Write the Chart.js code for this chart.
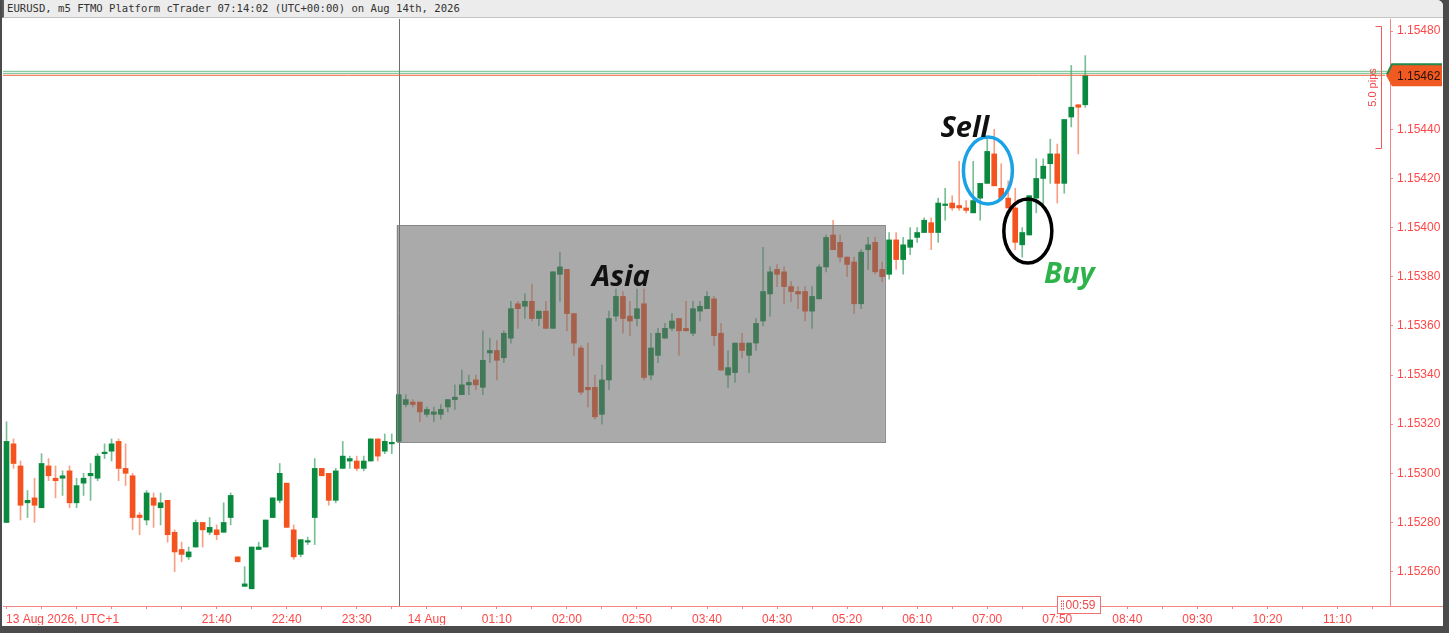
<!DOCTYPE html>
<html>
<head>
<meta charset="utf-8">
<script src="https://cdn.jsdelivr.net/npm/chart.js@4.4.0/dist/chart.umd.min.js"></script>
<style>
  html, body { margin: 0; padding: 0; width: 1449px; height: 633px; overflow: hidden; background: #4b4b4b; }
  #frame { position: absolute; left: 2px; top: 0; width: 1441px; height: 626px; background: #fff; border-top-right-radius: 6px; overflow: hidden; }
  #title { position: absolute; left: 0; top: 0; width: 1441px; height: 18px; box-sizing: border-box; background: #ececec; border-bottom: 1px solid #c4c4c4; border-left: 2px solid #5a5a5a; padding-left: 3px; font: 10.6px "DejaVu Sans Mono", monospace; line-height: 17px; color: #333; white-space: nowrap; }
  #wrap { position: absolute; left: 1px; top: 19px; width: 1440px; height: 606px; }
</style>
</head>
<body>
<div id="frame">
  <div id="title">EURUSD, m5 FTMO Platform cTrader 07:14:02 (UTC+00:00) on Aug 14th, 2026</div>
  <div id="wrap"><canvas id="chart" width="1440" height="606"></canvas></div>
</div>
<script>
// m5 candles, 13 Aug 19:10 -> 14 Aug 08:10 (UTC+1)
const open = [
  1.15280, 1.15312, 1.15303, 1.15288, 1.15290, 1.15286, 1.15303, 1.15298, 1.15298, 1.15301,
  1.15288, 1.15296, 1.15299, 1.15298, 1.15308, 1.15309, 1.15313, 1.15302, 1.15299, 1.15283,
  1.15281, 1.15290, 1.15286, 1.15289, 1.15276, 1.15269, 1.15266, 1.15270, 1.15280, 1.15276,
  1.15277, 1.15276, 1.15282, 1.15266, 1.15254, 1.15253, 1.15269, 1.15270, 1.15282, 1.15289,
  1.15296, 1.15277, 1.15267, 1.15272, 1.15282, 1.15302, 1.15300, 1.15289, 1.15302, 1.15305,
  1.15305, 1.15302, 1.15305, 1.15314, 1.15309, 1.15312, 1.15313, 1.15328, 1.15329, 1.15329,
  1.15324, 1.15324, 1.15324, 1.15327, 1.15330, 1.15332, 1.15336, 1.15338, 1.15335, 1.15349,
  1.15350, 1.15347, 1.15355, 1.15369, 1.15368, 1.15370, 1.15363, 1.15366, 1.15359, 1.15381,
  1.15383, 1.15365, 1.15351, 1.15335, 1.15335, 1.15324, 1.15338, 1.15364, 1.15372, 1.15364,
  1.15363, 1.15369, 1.15340, 1.15348, 1.15355, 1.15359, 1.15363, 1.15359, 1.15357, 1.15366,
  1.15367, 1.15371, 1.15357, 1.15340, 1.15341, 1.15353, 1.15348, 1.15353, 1.15362, 1.15373,
  1.15383, 1.15382, 1.15376, 1.15374, 1.15374, 1.15366, 1.15371, 1.15384, 1.15397, 1.15394,
  1.15388, 1.15386, 1.15369, 1.15391, 1.15394, 1.15383, 1.15381, 1.15395, 1.15387, 1.15392,
  1.15396, 1.15398, 1.15402, 1.15398, 1.15409, 1.15410, 1.15409, 1.15408, 1.15406, 1.15412,
  1.15418, 1.15430, 1.15416, 1.15412, 1.15408, 1.15393, 1.15397, 1.15412, 1.15420, 1.15426,
  1.15430, 1.15418, 1.15445, 1.15450, 1.15450
];
const high = [
  1.15321, 1.15314, 1.15305, 1.15293, 1.15298, 1.15308, 1.15306, 1.15303, 1.15301, 1.15303,
  1.15298, 1.15300, 1.15304, 1.15308, 1.15312, 1.15314, 1.15314, 1.15312, 1.15300, 1.15284,
  1.15293, 1.15292, 1.15292, 1.15289, 1.15277, 1.15272, 1.15270, 1.15281, 1.15280, 1.15282,
  1.15279, 1.15288, 1.15292, 1.15266, 1.15262, 1.15270, 1.15272, 1.15281, 1.15290, 1.15304,
  1.15296, 1.15279, 1.15273, 1.15274, 1.15306, 1.15302, 1.15300, 1.15302, 1.15313, 1.15307,
  1.15307, 1.15307, 1.15314, 1.15314, 1.15316, 1.15316, 1.15332, 1.15332, 1.15330, 1.15329,
  1.15327, 1.15327, 1.15328, 1.15330, 1.15336, 1.15342, 1.15340, 1.15340, 1.15358, 1.15355,
  1.15354, 1.15358, 1.15370, 1.15370, 1.15373, 1.15377, 1.15366, 1.15370, 1.15382, 1.15390,
  1.15383, 1.15365, 1.15352, 1.15353, 1.15340, 1.15344, 1.15366, 1.15375, 1.15374, 1.15370,
  1.15375, 1.15375, 1.15357, 1.15359, 1.15361, 1.15365, 1.15363, 1.15370, 1.15370, 1.15370,
  1.15374, 1.15372, 1.15361, 1.15350, 1.15353, 1.15357, 1.15353, 1.15363, 1.15392, 1.15384,
  1.15385, 1.15384, 1.15378, 1.15376, 1.15376, 1.15376, 1.15385, 1.15397, 1.15403, 1.15397,
  1.15388, 1.15388, 1.15391, 1.15396, 1.15396, 1.15386, 1.15398, 1.15398, 1.15396, 1.15400,
  1.15400, 1.15404, 1.15404, 1.15412, 1.15416, 1.15413, 1.15427, 1.15411, 1.15427, 1.15418,
  1.15436, 1.15440, 1.15426, 1.15419, 1.15416, 1.15400, 1.15413, 1.15428, 1.15428, 1.15436,
  1.15434, 1.15444, 1.15466, 1.15450, 1.15470
];
const low = [
  1.15280, 1.15302, 1.15281, 1.15282, 1.15280, 1.15286, 1.15297, 1.15290, 1.15291, 1.15286,
  1.15286, 1.15291, 1.15289, 1.15297, 1.15306, 1.15305, 1.15297, 1.15295, 1.15277, 1.15275,
  1.15279, 1.15278, 1.15279, 1.15272, 1.15260, 1.15264, 1.15265, 1.15270, 1.15270, 1.15275,
  1.15273, 1.15276, 1.15279, 1.15264, 1.15254, 1.15253, 1.15269, 1.15270, 1.15282, 1.15288,
  1.15278, 1.15265, 1.15266, 1.15271, 1.15271, 1.15299, 1.15287, 1.15288, 1.15302, 1.15302,
  1.15301, 1.15301, 1.15305, 1.15305, 1.15308, 1.15308, 1.15313, 1.15327, 1.15327, 1.15321,
  1.15323, 1.15321, 1.15322, 1.15325, 1.15326, 1.15332, 1.15332, 1.15334, 1.15332, 1.15345,
  1.15338, 1.15345, 1.15353, 1.15359, 1.15363, 1.15362, 1.15360, 1.15359, 1.15359, 1.15370,
  1.15358, 1.15348, 1.15332, 1.15327, 1.15322, 1.15320, 1.15334, 1.15362, 1.15357, 1.15356,
  1.15360, 1.15338, 1.15338, 1.15345, 1.15355, 1.15358, 1.15348, 1.15358, 1.15356, 1.15362,
  1.15367, 1.15352, 1.15342, 1.15335, 1.15337, 1.15347, 1.15341, 1.15350, 1.15360, 1.15364,
  1.15376, 1.15369, 1.15370, 1.15367, 1.15362, 1.15359, 1.15371, 1.15382, 1.15391, 1.15386,
  1.15380, 1.15365, 1.15367, 1.15383, 1.15381, 1.15378, 1.15379, 1.15383, 1.15381, 1.15389,
  1.15394, 1.15398, 1.15391, 1.15394, 1.15403, 1.15407, 1.15407, 1.15406, 1.15406, 1.15403,
  1.15418, 1.15417, 1.15412, 1.15408, 1.15391, 1.15388, 1.15397, 1.15406, 1.15409, 1.15418,
  1.15410, 1.15414, 1.15441, 1.15430, 1.15449
];
const close = [
  1.15313, 1.15304, 1.15287, 1.15289, 1.15287, 1.15304, 1.15299, 1.15297, 1.15299, 1.15288,
  1.15295, 1.15298, 1.15300, 1.15307, 1.15308, 1.15312, 1.15302, 1.15300, 1.15282, 1.15282,
  1.15292, 1.15287, 1.15288, 1.15275, 1.15268, 1.15267, 1.15268, 1.15280, 1.15277, 1.15278,
  1.15275, 1.15280, 1.15291, 1.15264, 1.15255, 1.15270, 1.15270, 1.15281, 1.15290, 1.15300,
  1.15278, 1.15266, 1.15273, 1.15272, 1.15302, 1.15299, 1.15289, 1.15301, 1.15307, 1.15306,
  1.15302, 1.15305, 1.15314, 1.15307, 1.15313, 1.15312, 1.15332, 1.15330, 1.15328, 1.15325,
  1.15326, 1.15325, 1.15326, 1.15330, 1.15331, 1.15336, 1.15337, 1.15336, 1.15346, 1.15350,
  1.15346, 1.15357, 1.15367, 1.15367, 1.15370, 1.15363, 1.15366, 1.15359, 1.15382, 1.15384,
  1.15365, 1.15353, 1.15333, 1.15334, 1.15323, 1.15338, 1.15363, 1.15372, 1.15363, 1.15362,
  1.15367, 1.15339, 1.15351, 1.15357, 1.15359, 1.15362, 1.15358, 1.15358, 1.15367, 1.15368,
  1.15372, 1.15356, 1.15342, 1.15343, 1.15353, 1.15350, 1.15353, 1.15361, 1.15374, 1.15382,
  1.15381, 1.15376, 1.15374, 1.15373, 1.15366, 1.15372, 1.15384, 1.15396, 1.15391, 1.15388,
  1.15385, 1.15369, 1.15390, 1.15393, 1.15382, 1.15380, 1.15395, 1.15387, 1.15393, 1.15395,
  1.15398, 1.15403, 1.15398, 1.15410, 1.15409, 1.15408, 1.15408, 1.15407, 1.15411, 1.15418,
  1.15431, 1.15417, 1.15412, 1.15408, 1.15394, 1.15398, 1.15413, 1.15420, 1.15425, 1.15430,
  1.15418, 1.15444, 1.15449, 1.15449, 1.15462
];

// axis labels
const yTicks = [1.1526, 1.1528, 1.1530, 1.1532, 1.1534, 1.1536, 1.1538, 1.1540, 1.1542, 1.1544, 1.1546, 1.1548];
const xLabelSlots = [8, 30, 40, 50, 60, 70, 80, 90, 100, 110, 120, 130, 140, 150, 160, 170, 180, 190];
const xLabelText = ["13 Aug 2026, UTC+1", "21:40", "22:40", "23:30", "14 Aug", "01:10", "02:00", "02:50",
  "03:40", "04:30", "05:20", "06:10", "07:00", "07:50", "08:40", "09:30", "10:20", "11:10"];

const slotCount = 198;
const slots = Array.from({ length: slotCount }, (_, i) => i);
const tickSlots = slots.filter((i) => i % 5 === 0 || i === 8);

const bidPrice = 1.15462;
const askPrice = 1.154632;
const daySplit = 56;
const asia = { from: 55.7, to: 125.4, high: 1.15401, low: 1.153127 };

const up = "#0a8a3e";
const down = "#f4521f";
const upWick = "rgba(10,138,62,0.55)";
const downWick = "rgba(244,82,31,0.55)";
const axisRed = "#f28585";
const labelRed = "#ff4747";

const rising = open.map((o, i) => close[i] >= o);
const bodies = open.map((o, i) => [Math.min(o, close[i]), Math.max(o, close[i])]);
const wicks = low.map((l, i) => [l, high[i]]);

function ellipse(ctx, cx, cy, rx, ry, color) {
  ctx.beginPath();
  ctx.ellipse(cx, cy, rx, ry, 0, 0, Math.PI * 2);
  ctx.strokeStyle = color;
  ctx.lineWidth = 3.5;
  ctx.stroke();
}

const overlay = {
  id: "overlay",
  beforeDatasetsDraw(chart) {
    const { ctx, chartArea, scales } = chart;
    const sx = Math.round(scales.x.getPixelForValue(daySplit)) + 0.5;
    ctx.save();
    ctx.strokeStyle = "#6e6e6e";
    ctx.lineWidth = 1;
    ctx.beginPath();
    ctx.moveTo(sx, chartArea.top);
    ctx.lineTo(sx, chartArea.bottom);
    ctx.stroke();
    ctx.restore();
  },
  afterDatasetsDraw(chart) {
    const { ctx, chartArea, scales } = chart;
    const x = scales.x;
    const y = scales.y;
    ctx.save();

    // Asia session box
    const bx0 = x.getPixelForValue(asia.from);
    const bx1 = x.getPixelForValue(asia.to);
    const by0 = y.getPixelForValue(asia.high);
    const by1 = y.getPixelForValue(asia.low);
    ctx.fillStyle = "rgba(108,108,108,0.58)";
    ctx.fillRect(bx0, by0, bx1 - bx0, by1 - by0);
    ctx.strokeStyle = "rgba(130,130,130,0.9)";
    ctx.lineWidth = 1;
    ctx.strokeRect(Math.round(bx0) + 0.5, Math.round(by0) + 0.5, Math.round(bx1 - bx0), Math.round(by1 - by0));

    // bid / ask lines
    const ay = y.getPixelForValue(askPrice);
    const by = y.getPixelForValue(bidPrice);
    ctx.strokeStyle = "rgba(60,170,100,0.75)";
    ctx.beginPath();
    ctx.moveTo(chartArea.left, ay - 1);
    ctx.lineTo(chartArea.right - 3, ay - 1);
    ctx.moveTo(chartArea.left, ay + 1);
    ctx.lineTo(chartArea.right - 3, ay + 1);
    ctx.stroke();
    ctx.strokeStyle = "#f0603a";
    ctx.beginPath();
    ctx.moveTo(chartArea.left, by);
    ctx.lineTo(chartArea.right - 5, by);
    ctx.stroke();

    // annotations
    ellipse(ctx, x.getPixelForValue(140.1), y.getPixelForValue(1.154232), 24.5, 33.5, "#1ba2e6");
    ellipse(ctx, x.getPixelForValue(145.8), y.getPixelForValue(1.153986), 24, 32, "#000");

    ctx.font = 'italic bold 29px "Open Sans"';
    ctx.textAlign = "center";
    ctx.textBaseline = "middle";
    ctx.fillStyle = "#111";
    ctx.fillText("Asia", x.getPixelForValue(87.7), y.getPixelForValue(1.153795));
    ctx.fillText("Sell", x.getPixelForValue(136.8), y.getPixelForValue(1.154401));
    ctx.fillStyle = "#2db34a";
    ctx.fillText("Buy", x.getPixelForValue(151.7), y.getPixelForValue(1.153807));

    // pips ruler
    const rx = chartArea.right - 8.5;
    const r0 = Math.round(y.getPixelForValue(1.154822)) + 0.5;
    const r1 = Math.round(y.getPixelForValue(1.154322)) + 0.5;
    ctx.strokeStyle = "#f05a5a";
    ctx.lineWidth = 1;
    ctx.beginPath();
    ctx.moveTo(rx - 6, r0);
    ctx.lineTo(rx, r0);
    ctx.lineTo(rx, r1);
    ctx.lineTo(rx - 6, r1);
    ctx.stroke();
    ctx.save();
    ctx.translate(rx - 9, (r0 + r1) / 2);
    ctx.rotate(-Math.PI / 2);
    ctx.font = '11px "Liberation Sans"';
    ctx.fillStyle = "#f04848";
    ctx.fillText("5.0 pips", 0, 0);
    ctx.restore();

    ctx.restore();
  },
  afterDraw(chart) {
    const { ctx, chartArea, scales, width } = chart;
    const y = scales.y;
    const x = scales.x;
    ctx.save();

    // x axis line continues under the price scale
    ctx.strokeStyle = axisRed;
    ctx.beginPath();
    ctx.moveTo(chartArea.right, chartArea.bottom + 0.5);
    ctx.lineTo(width, chartArea.bottom + 0.5);
    ctx.stroke();

    // current price label
    const cy = y.getPixelForValue(bidPrice);
    const left = chartArea.right + 1;
    const right = width - 1;
    ctx.beginPath();
    ctx.moveTo(left - 5, cy);
    ctx.lineTo(left + 1, cy - 11);
    ctx.lineTo(right, cy - 11);
    ctx.lineTo(right, cy + 11);
    ctx.lineTo(left + 1, cy + 11);
    ctx.closePath();
    ctx.fillStyle = "#f05a22";
    ctx.fill();
    ctx.strokeStyle = "#1f8a4c";
    ctx.lineWidth = 2;
    ctx.beginPath();
    ctx.moveTo(left - 4, cy - 1);
    ctx.lineTo(left + 1, cy - 11);
    ctx.lineTo(right, cy - 11);
    ctx.stroke();
    ctx.font = '12px "Liberation Sans"';
    ctx.fillStyle = "#2a1208";
    ctx.textAlign = "left";
    ctx.textBaseline = "middle";
    ctx.fillText(bidPrice.toFixed(5), left + 6, cy + 1);

    // candle countdown
    const lx = x.getPixelForValue(open.length - 1);
    const bx = Math.round(lx - 28) + 0.5;
    const bt = chartArea.bottom - 9.5;
    ctx.fillStyle = "#fff";
    ctx.fillRect(bx, bt, 43, 17);
    ctx.strokeStyle = "#f07070";
    ctx.lineWidth = 1;
    ctx.strokeRect(bx, bt, 43, 17);
    ctx.fillStyle = "#f05050";
    for (let r = 0; r < 4; r++) {
      ctx.fillRect(bx + 3.5, bt + 4 + r * 2.5, 1, 1.5);
      ctx.fillRect(bx + 5.5, bt + 4 + r * 2.5, 1, 1.5);
    }
    ctx.font = '12px "Liberation Sans"';
    ctx.fillStyle = "#f04848";
    ctx.textAlign = "left";
    ctx.textBaseline = "middle";
    ctx.fillText("00:59", bx + 8, bt + 9);

    ctx.restore();
  },
};

new Chart(document.getElementById("chart"), {
  type: "bar",
  data: {
    labels: slots,
    datasets: [
      {
        label: "body",
        data: bodies,
        backgroundColor: rising.map((r) => (r ? up : down)),
        barThickness: 5,
        minBarLength: 1.5,
        grouped: false,
      },
      {
        label: "wick",
        data: wicks,
        backgroundColor: rising.map((r) => (r ? upWick : downWick)),
        barThickness: 1,
        grouped: false,
      },
    ],
  },
  options: {
    responsive: false,
    animation: false,
    events: [],
    layout: { padding: 0 },
    plugins: { legend: { display: false }, tooltip: { enabled: false } },
    scales: {
      x: {
        type: "category",
        offset: true,
        grid: {
          offset: false,
          drawOnChartArea: false,
          tickLength: 3,
          tickColor: (ctx) => (ctx.tick && ctx.tick.value === 8 ? "rgba(0,0,0,0)" : axisRed),
        },
        border: { color: axisRed },
        ticks: {
          autoSkip: false,
          maxRotation: 0,
          padding: 3,
          color: labelRed,
          font: { family: "Liberation Sans", size: 12 },
          callback: (v) => {
            const k = xLabelSlots.indexOf(v);
            return k < 0 ? "" : xLabelText[k];
          },
        },
        afterBuildTicks: (s) => {
          s.ticks = tickSlots.map((v) => ({ value: v }));
        },
        afterFit: (s) => {
          s.height = 19;
          s.paddingLeft = 0;
          s.paddingRight = 0;
        },
      },
      y: {
        position: "right",
        min: 1.15246,
        max: 1.154849,
        bounds: "data",
        grid: { drawOnChartArea: false, tickLength: 3, tickColor: axisRed },
        border: { color: axisRed },
        ticks: {
          padding: 4,
          color: labelRed,
          font: { family: "Liberation Sans", size: 12 },
          callback: (v) => Number(v).toFixed(5),
        },
        afterBuildTicks: (s) => {
          s.ticks = yTicks.map((v) => ({ value: v }));
        },
        afterFit: (s) => {
          s.width = 53;
          s.paddingTop = 0;
          s.paddingBottom = 0;
        },
      },
    },
  },
  plugins: [overlay],
});
</script>
</body>
</html>
